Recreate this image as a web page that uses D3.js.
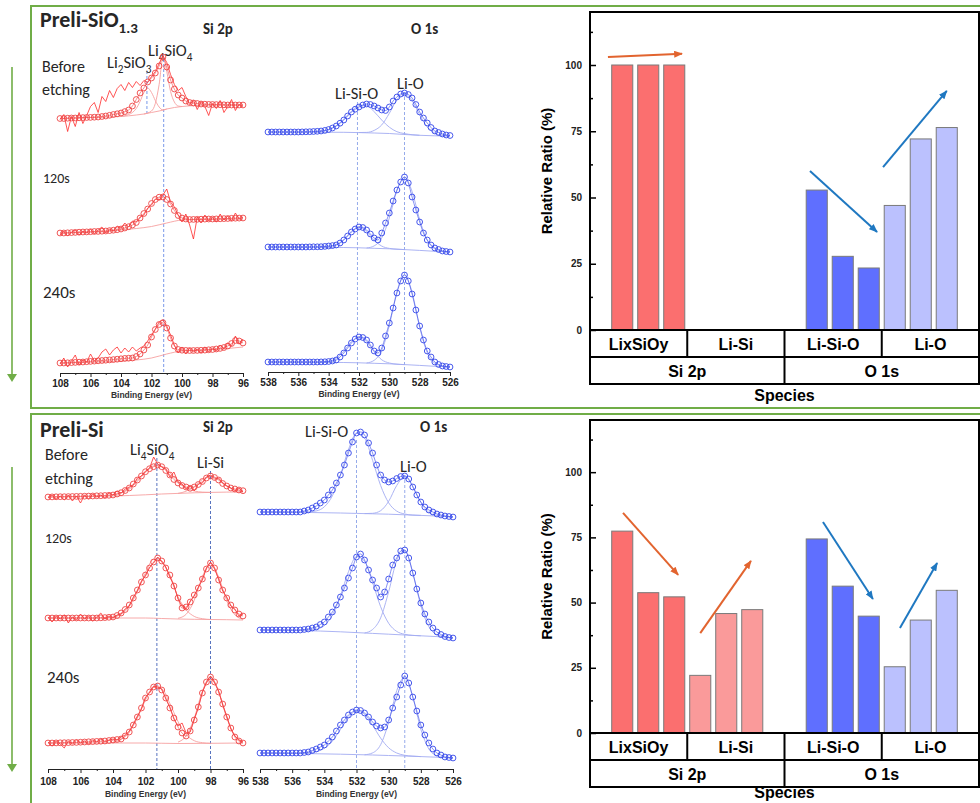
<!DOCTYPE html>
<html>
<head>
<meta charset="utf-8">
<script src="https://cdn.jsdelivr.net/npm/d3@7/dist/d3.min.js"></script>
<style>
  body { margin: 0; background: #fff; }
  svg { display: block; }
  text { font-family: "Liberation Sans", Arial, sans-serif; }
  .cal { font-family: Carlito, Lato, "Open Sans", sans-serif; }
</style>
</head>
<body>
<div id="fig"></div>
<script>
// ---------- spectra: energy grids and tick labels ----------
const siGrid = d3.range(108, 95.9, -0.25);
const oGrid = d3.range(538, 525.9, -0.25);
const siTicks = [108, 106, 104, 102, 100, 98, 96];
const siMinor = [107, 105, 103, 101, 99, 97];
const oTicks = [538, 536, 534, 532, 530, 528, 526];
const oMinor = [537, 535, 533, 531, 529, 527];

// Preli-SiO1.3, Si 2p (a.u., each trace relative to its own baseline)
const siTopOffset = [254.5, 140, 10];
const siTopFit = [
  [0,0,0.3,0.5, 0.5,0.7,0.9,1, 1.1,1.3,1.5,2, 2.5,3.2,4,4.7, 5.5,6.9,8.5,12.5, 19,25.5,30.5,36.5,
   40.5,45.5,52.5,61.5, 51.5,38.5,29.5,23.5, 20.5,17.5,16,15.5, 15,14.5,14.3,14.1, 14,13.9,13.8,13.7, 13.5,13.5,13.5,13.5, 13.5],
  [0,0,0.2,0.4, 0.6,0.8,1,1.1, 1.3,1.5,1.6,1.8, 2,2.4,2.8,3.3, 4,5,6.3,8, 10.5,15,19.5,24,
   29.5,33.5,35.8,36, 33.5,29,22.5,17.5, 15,14,13.5,13.6, 13.7,13.8,13.9,14, 14,14.1,14.2,14.4, 14.5,14.7,14.8,14.9, 15],
  [0,0,0.2,0.4, 0.6,0.8,1,1.3, 1.6,1.9,2.2,2.5, 2.8,3.1,3.4,3.8, 4.2,4.6,4.8,5, 6.5,9,13,18,
   26,33.5,38.5,40.3, 35,25,17,13.5, 12.8,12.6,12.5,12.5, 12.6,12.7,12.9,13.2, 13.5,14,14.6,15.5, 17,19.5,22.5,22, 20]
];
const siTopRaw = [
  [-1,4,-13,2, -8,6,-5,3, 12,16,6,22, 17,28,21,30, 34,28,36,31, 37,33,38,36,
   42,47,55,63, 56,44,34,28, 31,22,14,18, 9,17,12,3, 15,10,18,6, 12,19,8,14, 12],
  [-2,2,-3,1, 3,-2,2,0, 4,-1,3,6, 0,4,2,7, 5,10,6,12, 11,16,18,25,
   28,34,33,38, 44,31,26,18, 11,19,8,-6, 16,10,18,12, 16,11,19,13, 17,12,20,14, 16],
  [-1,5,-4,2, 8,-2,3,1, 9,2,5,11, 14,8,13,16, 10,15,11,16, 12,15,17,22,
   28,34,41,43, 37,28,18,10, 16,9,15,11, 14,10,16,11, 15,12,18,14, 20,17,27,19, 24]
];
const siTopBg = [
  [[108,0],[106,1],[104,2],[103,3.5],[102.5,4.5],[102,6],[101.5,7.5],[101,9.5],[100.5,11],[100,12],[99,13],[98,13.5],[96,13.5]],
  [[108,0],[105,1.5],[104,3],[103,4.5],[102,6.5],[101,10],[100,13],[99,13.5],[96,14]],
  [[108,0],[104,2],[103,3],[102,5],[101,9],[100,12],[98,13.5],[97,14.5],[96,16]]
];
const siTopComps = [
  [
    [[104,2],[103.5,4],[103.25,6],[103,10],[102.75,17],[102.5,26],[102.25,30.5],[102,26],[101.75,18],[101.5,11.5],[101.25,8.5],[101,9.5]],
    [[102.5,4.5],[102,7.5],[101.75,15],[101.5,34],[101.25,61],[101,47],[100.75,27],[100.5,16.5],[100.25,12.5],[100,12]]
  ],
  [], []
];
const siTopPeaks = [102.3, 101.2];
const siTopPeakNames = [["Li", "2", "SiO", "3"], ["Li", "4", "SiO", "4"]];

// Preli-SiO1.3, O 1s
const oTopOffset = [240, 125, 10];
const oTopFit = [
  [0,0,0,0, 0,0,0,0, 0,0.1,0.2,0.3, 0.5,0.7,1,1.6, 2.5,4,6,8.8, 12,16,20,22.8,
   25,27,28,27.5, 26,24,22,21.5, 25,31,35,38, 39,37.5,34,27.5, 20,14,9,4.5, 1,-0.5,-2,-3, -3.5],
  [0,0,0,0, 0,0,0,0, 0,0,0,0.1, 0.2,0.2,0.3,0.6, 1,1.4,2,4, 7,11,15,18,
   20,19.5,17,13, 9,7,14,24, 34,46,57,65, 70,64,50,37, 25,14,7,2, -1,-2.5,-4,-4.5, -5],
  [0,0,0,0, 0,0,0,0, 0,0,0,0, 0,0,0.1,0.2, 0.5,1,2,5, 9,14,19,23,
   25,24.5,22,17, 11,9,14,26, 39,54,69,81, 87,81,68,52, 36,22,11,5, 0,-2.5,-4,-4.5, -5]
];
const oTopBg = [
  [[538,0],[533,-0.3],[532,-0.6],[531,-1],[530,-1.5],[529,-2.5],[528,-3.3],[527,-3.8],[526,-4]],
  [[538,0],[533,-0.5],[532,-0.8],[531,-1.3],[530,-1.8],[529,-2.6],[528,-3.4],[527,-4.3],[526,-5]],
  [[538,0],[533,-0.5],[532,-0.8],[531,-1.3],[530,-1.8],[529,-2.6],[528,-3.4],[527,-4.3],[526,-5]]
];
const oTopComps = [
  [
    [[535,0],[534.5,0.7],[534,2.4],[533.5,6.3],[533,12.9],[532.5,20.8],[532,26.3],[531.5,26.2],[531,20.3],[530.5,11.9],[530,4.8],[529.5,0.3],[529,-1.6],[528.5,-2.7],[528,-3.3]],
    [[532,-0.5],[531.5,-0.4],[531,1.6],[530.5,7.1],[530,18.7],[529.5,32.3],[529,38.4],[528.5,31.5],[528,17.2],[527.5,5.1],[527,-1.1],[526.5,-3.4],[526,-4]]
  ],
  [
    [[534.5,0],[534,0.2],[533.5,2.3],[533,7.4],[532.5,15.7],[532,20],[531.5,15.3],[531,6.9],[530.5,0.9],[530,-1.4],[529.5,-2.2],[529,-2.6]],
    [[531.5,-1],[531,1.1],[530.5,9.1],[530,29],[529.5,56.3],[529,69.9],[528.5,55.5],[528,27.4],[527.5,6.7],[527,-1.9],[526.5,-4.2],[526,-5]]
  ],
  [
    [[534.5,0],[534,0.8],[533.5,3.7],[533,10.8],[532.5,20.5],[532,25],[531.5,20.2],[531,10.2],[530.5,2.2],[530,-1],[529.5,-2.2],[529,-2.6]],
    [[531.5,-1],[531,1.7],[530.5,11.6],[530,36.5],[529.5,70.4],[529,87.4],[528.5,69.6],[528,34.9],[527.5,9.2],[527,-1.3],[526.5,-4.1],[526,-5]]
  ]
];
const oTopPeaks = [532.1, 529.0];
const oTopPeakNames = [["Li-Si-O"], ["Li-O"]];

// Preli-Si, Si 2p
const siBotOffset = [272, 151, 26];
const siBotFit = [
  [0,0.1,0.2,0.3, 0.3,0.4,0.5,0.6, 0.7,0.8,0.9,1, 1.2,1.3,1.5,1.7, 2,3,4.3,6.5, 9,13,17,21,
   25.3,28.3,30.3,32, 30.3,26.5,22,17.5, 14,11.5,10,8.7, 10,12.5,15.5,19, 21,19.5,17,13.5, 11,9,8,7, 6.3],
  [0,0,0,0, 0,0,0,0, 0,0,0,0, 0,0.2,0.4,0.7, 1,2.5,5,8.5, 13,20,28,36,
   43,50,56,60, 57,50,43,32, 20,10,11,16, 23,30,39,49, 55,50,38,28, 20,13,8,4, 2],
  [0,0,0.1,0.2, 0.3,0.4,0.5,0.6, 0.8,1,1.2,1.4, 1.6,1.8,2,2.5, 3,3.5,4,7, 11,18,26,35,
   45,51,56,57, 53,45,35,25, 16,10,7,12, 23,36,50,61, 66,61,51,39, 26,15,6,2, 0]
];
const siBotRaw = [
  [-1,2,-2,1, -3,2,-4,1, -6,2,-2,3, 0,2,-1,4, 2,6,4,8, 10,12,19,21,
   26,29,40,33, 30,28,20,25, 15,13,8,11, 6,13,14,20, 22,18,19,14, 11,9,6,9, 5],
  [1,-4,2,-1, 3,-5,1,-2, 4,-1,2,-3, 1,5,-1,2, 0,3,4,9, 12,21,27,37,
   42,51,55,61, 56,51,41,33, 19,12,9,17, 22,31,38,50, 56,49,39,27, 21,12,9,2, 4],
  [1,-3,2,-1, -5,2,-1,3, 0,2,-1,3, 1,4,1,3, 4,3,6,8, 12,19,27,34,
   46,50,57,56, 54,44,36,24, 17,20,10,11, 24,35,51,60, 67,60,52,38, 27,14,7,3, 1]
];
const siBotBg = [
  [[108,0],[104,1],[103,1.5],[102,2.2],[101,3],[100,3.6],[99,4.2],[98,4.6],[97,4.9],[96,5]],
  [[108,0],[102,0],[101,-0.5],[100,-1],[99,-1.3],[98,-1.5],[97,-1.7],[96,-2]],
  [[108,0],[102,0],[100,-0.5],[98,-0.3],[96,0]]
];
const siBotComps = [
  [
    [[104,2.6],[103.5,4],[103,7.9],[102.5,15.6],[102,24.7],[101.5,31.1],[101,30.7],[100.5,24],[100,15.5],[99.5,9.2],[99,6],[98.5,4.9],[98,4.6]],
    [[100,3.6],[99.5,5.8],[99,10.5],[98.5,17.4],[98,21.1],[97.5,17.8],[97,11.2],[96.5,6.9],[96,5.3]]
  ],
  [
    [[104,0.9],[103.5,3.7],[103,11.5],[102.5,26.3],[102,45.3],[101.5,58.6],[101,57],[100.5,41.2],[100,21.3],[99.5,8.2],[99,1.6],[98.5,-0.7],[98,-1.5]],
    [[100,-0.3],[99.5,3.7],[99,17.7],[98.5,41.3],[98,54.5],[97.5,41.1],[97,17.3],[96.5,3.1],[96,-1.3]]
  ],
  [
    [[104,0.9],[103.5,3.6],[103,10.9],[102.5,25],[102,43],[101.5,55.7],[101,54.2],[100.5,39.5],[100,21.5],[99.5,8.5],[99,2.3],[98.5,0.3],[98,-0.3]],
    [[100,0.9],[99.5,7.2],[99,25],[98.5,51.7],[98,66],[97.5,51.7],[97,25],[96.5,7.5],[96,1.4]]
  ]
];
const siBotPeaks = [101.3, 98.0];
const siBotPeakNames = [["Li", "4", "SiO", "4"], ["Li-Si"]];

// Preli-Si, O 1s
const oBotOffset = [257, 139, 16];
const oBotFit = [
  [0,0,0,0, 0,0,0,0, 0,0,0,1, 2,4,6,9, 12,17,22,29, 37,47,59,70,
   79,80,77,69, 59,47,37,32, 30,31,33.5,35.5, 36,33,25,17, 10,5,2,0, -2,-3,-4,-4.5, -5],
  [0,0,0,0, 0,0,0,0, 0,0,0,0.5, 1,2,3,5.5, 8,13,18,25, 33,42,52,62,
   73,76,70,60, 50,42,33,38, 51,65,72,79, 80,72,57,41, 27,16,8,2, -2,-4.5,-6.5,-7.5, -8],
  [0,0,0,0, 0,0,0,0, 0,0,0,0.5, 1,2.5,4,6, 8,12,16,22, 28,33,38,41,
   43,42.5,40,36, 31,27,25,26, 33,45,56,68, 77,70,56,42, 28,18,10,4, 0,-2,-4,-4.5, -5]
];
const oBotBg = [
  [[538,0],[533,-1],[532,-1.4],[531,-1.8],[530,-2.2],[529,-2.8],[528,-3.4],[527,-4],[526,-5]],
  [[538,0],[533,-1.8],[532,-2.6],[531,-3.4],[530,-4.2],[529,-5],[528,-5.8],[527,-6.6],[526,-8]],
  [[538,0],[533,-1.2],[532,-1.6],[531,-2],[530,-2.5],[529,-3],[528,-3.6],[527,-4.2],[526,-5]]
];
const oBotComps = [
  [
    [[535.5,0],[535,0.2],[534.5,1.1],[534,5.2],[533.5,16.2],[533,37],[532.5,62.4],[532,78.6],[531.5,73.9],[531,51.7],[530.5,26.5],[530,9.2],[529.5,0.9],[529,-2],[528.5,-3.1],[528,-3.4]],
    [[531.5,-1.6],[531,-1.3],[530.5,1.3],[530,10.7],[529.5,26.5],[529,35.2],[528.5,25.9],[528,9.5],[527.5,-0.4],[527,-3.5],[526.5,-4.5],[526,-5]]
  ],
  [
    [[535.5,0],[535,0.2],[534.5,0.9],[534,4.5],[533.5,14.8],[533,34.3],[532.5,58.2],[532,73.4],[531.5,68.8],[531,47.5],[530.5,23.3],[530,6.7],[529.5,-1.4],[529,-4.3],[528.5,-5.4],[528,-5.8]],
    [[531.5,-3],[531,0.5],[530.5,12.1],[530,38.3],[529.5,69.5],[529,79.2],[528.5,57.1],[528,24.4],[527.5,3.3],[527,-4.6],[526.5,-6.7],[526,-8]]
  ],
  [
    [[535.5,0],[535,0.4],[534.5,1.4],[534,4.7],[533.5,11.9],[533,23.4],[532.5,35.6],[532,42.2],[531.5,38.9],[531,27.8],[530.5,14.9],[530,5.2],[529.5,0],[529,-2.3],[528.5,-3.1],[528,-3.6]],
    [[531.5,-1.8],[531,0.1],[530.5,8.3],[530,30.7],[529.5,62.3],[529,76],[528.5,55.8],[528,23.8],[527.5,4],[527,-2.8],[526.5,-4.6],[526,-5]]
  ]
];
const oBotPeaks = [532.0, 529.0];
const oBotPeakNames = [["Li-Si-O"], ["Li-O"]];

// ---------- relative ratio bar charts ----------
const species = ["LixSiOy", "Li-Si", "Li-Si-O", "Li-O"];
const groups = ["Si 2p", "O 1s"];
const ratioTicks = [0, 25, 50, 75, 100];
const ratioMinor = [12.5, 37.5, 62.5, 87.5, 112.5];
// per species: before etching, 120s, 240s
const ratioTop = [[100, 100, 100], [0, 0, 0], [52.8, 27.8, 23.4], [47.0, 72.1, 76.4]];
const ratioBot = [[77.4, 53.8, 52.2], [22.1, 45.8, 47.3], [74.4, 56.3, 44.8], [25.4, 43.3, 54.7]];
// trend arrows: [slot, ratio] within a group
const trendTop = [
  {group: "Si 2p", from: [-0.55, 103], to: [2.3, 104.2], kind: "si"},
  {group: "O 1s", from: [-0.26, 60], to: [2.32, 37], kind: "o"},
  {group: "O 1s", from: [2.55, 61.5], to: [5.0, 90.2], kind: "o"}
];
const trendBot = [
  {group: "Si 2p", from: [0.03, 84.4], to: [2.15, 60.6], kind: "si"},
  {group: "Si 2p", from: [3.0, 38.3], to: [4.95, 66.0], kind: "si"},
  {group: "O 1s", from: [0.24, 80.9], to: [2.16, 51.4], kind: "o"},
  {group: "O 1s", from: [3.2, 40.3], to: [4.63, 65.2], kind: "o"}
];

// ---------- drawing ----------
const speciesColors = ["#fb6f6f", "#fa9a9a", "#5f6fff", "#bbc1fe"];
const arrowColors = {si: "#e2642f", o: "#1f78c1"};
const green = "#70ad47";

const svg = d3.select("#fig").append("svg").attr("width", 980).attr("height", 803);

const defs = svg.append("defs");
Object.entries(arrowColors).forEach(([k, c]) => {
  defs.append("marker").attr("id", "head-" + k)
    .attr("viewBox", "0 0 10 8").attr("refX", 9).attr("refY", 4)
    .attr("markerWidth", 9).attr("markerHeight", 7).attr("markerUnits", "userSpaceOnUse")
    .attr("orient", "auto")
    .append("path").attr("d", "M0,0L10,4L0,8Z").attr("fill", c);
});

// panel frames
svg.append("rect").attr("x", 31).attr("y", 6).attr("width", 960).attr("height", 402)
  .attr("fill", "none").attr("stroke", green).attr("stroke-width", 2);
svg.append("rect").attr("x", 31).attr("y", 414).attr("width", 960).attr("height", 400)
  .attr("fill", "none").attr("stroke", green).attr("stroke-width", 2);

// etching direction arrows
[[67, 382], [467, 772]].forEach(([a, b]) => {
  svg.append("line").attr("x1", 12).attr("x2", 12).attr("y1", a).attr("y2", b - 6)
    .attr("stroke", green).attr("stroke-width", 1.6);
  svg.append("path").attr("d", `M7,${b - 8}L17,${b - 8}L12,${b}Z`).attr("fill", green);
});

function rich(sel, x, y, parts, size, weight, anchor) {
  const t = sel.append("text").attr("class", "cal").attr("x", x).attr("y", y)
    .attr("font-size", size).attr("font-weight", weight || "normal")
    .attr("text-anchor", anchor || "start").attr("fill", "#262626");
  parts.forEach((p, i) => {
    const sub = i % 2 === 1;
    t.append("tspan").text(p)
      .attr("font-size", sub ? size * 0.68 : size)
      .attr("dy", i === 0 ? 0 : (sub ? size * 0.28 : -size * 0.28));
  });
  return t;
}

function drawSpectra(o) {
  const g = svg.append("g");
  const x = d3.scaleLinear().domain(o.domain).range(o.range);
  const y = d3.scaleLinear().domain([0, 360]).range([o.axisY, o.axisY - 360]);

  // peak position guides
  o.peaks.forEach((E, i) => {
    const [lx, ly] = o.labelPos[i];
    const end = o.dashEnd[i] == null ? o.axisY : y(o.offset[0] + o.dashEnd[i]);
    g.append("line").attr("x1", x(E)).attr("x2", x(E)).attr("y1", ly + 3).attr("y2", end)
      .attr("stroke", o.dash).attr("stroke-width", 0.9).attr("stroke-dasharray", "3,2");
    rich(g, lx, ly, o.peakNames[i], 16.5, "normal");
  });

  o.fit.forEach((fit, k) => {
    const off = o.offset[k];
    const smooth = d3.line().x(d => x(d[0])).y(d => y(off + d[1])).curve(d3.curveMonotoneX);
    const straight = d3.line().x(d => x(d[0])).y(d => y(off + d[1]));
    g.append("path").attr("d", smooth(o.bg[k])).attr("fill", "none")
      .attr("stroke", o.compColor).attr("stroke-width", 0.9);
    o.comps[k].forEach(c => {
      g.append("path").attr("d", smooth(c)).attr("fill", "none")
        .attr("stroke", o.compColor).attr("stroke-width", 0.9);
    });
    const pts = o.grid.map((E, i) => [E, fit[i]]);
    if (o.raw) {
      g.append("path").attr("d", straight(o.grid.map((E, i) => [E, o.raw[k][i]])))
        .attr("fill", "none").attr("stroke", o.rawColor).attr("stroke-width", 0.8);
    }
    g.append("path").attr("d", smooth(pts)).attr("fill", "none")
      .attr("stroke", o.dotColor).attr("stroke-width", 0.6);
    g.selectAll(null).data(pts).join("circle")
      .attr("cx", d => x(d[0])).attr("cy", d => y(off + d[1])).attr("r", 2.9)
      .attr("fill", "none").attr("stroke", o.dotColor).attr("stroke-width", 0.9);
  });

  const ax = g.append("g").attr("transform", `translate(0,${o.axisY})`)
    .attr("font-family", "'Liberation Sans', Arial, sans-serif").attr("font-size", 9.5).attr("font-weight", "bold");
  ax.call(d3.axisBottom(x).tickValues(o.ticks).tickSize(4).tickSizeOuter(0).tickPadding(o.pad).tickFormat(d3.format("d")));
  ax.append("g").call(d3.axisBottom(x).tickValues(o.minor).tickSize(2).tickFormat(""))
    .select(".domain").remove();
  ax.selectAll("text").attr("fill", "#222");
  ax.selectAll("line,path").attr("stroke", "#222");
  g.append("text").attr("x", (o.range[0] + o.range[1]) / 2).attr("y", o.axisY + o.titleDy)
    .attr("text-anchor", "middle").attr("font-size", 8.5).attr("font-weight", "bold").attr("fill", "#333")
    .text("Binding Energy (eV)");
}

const siStyle = {compColor: "#f6a0a0", rawColor: "#ff2a2a", dotColor: "#ee4545"};
const oStyle = {compColor: "#a3abf2", dotColor: "#3447ea"};

drawSpectra(Object.assign({
  fit: siTopFit, raw: siTopRaw, bg: siTopBg, comps: siTopComps, offset: siTopOffset,
  peaks: siTopPeaks, peakNames: siTopPeakNames, labelPos: [[107, 68], [148, 56]], dashEnd: [5, null],
  grid: siGrid, domain: [108, 96], range: [60, 243], axisY: 373, ticks: siTicks, minor: siMinor,
  pad: 3, titleDy: 25, dash: "#6a8ce6"
}, siStyle));
drawSpectra(Object.assign({
  fit: oTopFit, bg: oTopBg, comps: oTopComps, offset: oTopOffset,
  peaks: oTopPeaks, peakNames: oTopPeakNames, labelPos: [[335, 99], [397, 89]], dashEnd: [null, null],
  grid: oGrid, domain: [538, 526], range: [268, 450], axisY: 372, ticks: oTicks, minor: oMinor,
  pad: 3, titleDy: 25, dash: "#8aa2e8"
}, oStyle));
drawSpectra(Object.assign({
  fit: siBotFit, raw: siBotRaw, bg: siBotBg, comps: siBotComps, offset: siBotOffset,
  peaks: siBotPeaks, peakNames: siBotPeakNames, labelPos: [[130, 455], [197, 468]], dashEnd: [null, null],
  grid: siGrid, domain: [108, 96], range: [48, 243], axisY: 769, ticks: siTicks, minor: siMinor,
  pad: 5, titleDy: 28, dash: "#4463b8"
}, siStyle));
drawSpectra(Object.assign({
  fit: oBotFit, bg: oBotBg, comps: oBotComps, offset: oBotOffset,
  peaks: oBotPeaks, peakNames: oBotPeakNames, labelPos: [[305, 437], [400, 472]], dashEnd: [null, null],
  grid: oGrid, domain: [538, 526], range: [260, 453], axisY: 769, ticks: oTicks, minor: oMinor,
  pad: 5, titleDy: 28, dash: "#8aa2e8"
}, oStyle));

// panel captions
const caps = svg.append("g");
rich(caps, 40, 27, ["Preli-SiO", "1.3"], 22, "bold");
rich(caps, 203, 34, ["Si 2p"], 15, "bold");
rich(caps, 411, 34, ["O 1s"], 15, "bold");
rich(caps, 42, 72, ["Before"], 16);
rich(caps, 42, 95, ["etching"], 16);
rich(caps, 43, 183, ["120s"], 14);
rich(caps, 43, 298, ["240s"], 17);
rich(caps, 40, 437, ["Preli-Si"], 22, "bold");
rich(caps, 203, 432, ["Si 2p"], 15, "bold");
rich(caps, 420, 432, ["O 1s"], 15, "bold");
rich(caps, 45, 460, ["Before"], 16);
rich(caps, 45, 484, ["etching"], 16);
rich(caps, 45, 543, ["120s"], 14);
rich(caps, 47, 683, ["240s"], 17);

function drawRatios(o) {
  const g = svg.append("g");
  const x0 = d3.scaleBand().domain(groups).range([o.left, o.right]);
  const bw = x0.bandwidth();
  const x1 = d3.scaleBand().domain(d3.range(6)).range([0, bw]).paddingInner(0.19).paddingOuter(0.835);
  const y = d3.scaleLinear().domain([0, 120]).range([o.base, o.top]);
  const slotX = (grp, k) => x0(grp) + x1(0) + x1.bandwidth() / 2 + k * x1.step();

  const bars = [];
  o.values.forEach((vals, s) => vals.forEach((v, t) => bars.push({s, t, v})));
  g.selectAll("rect.bar").data(bars.filter(d => d.v > 0)).join("rect").attr("class", "bar")
    .attr("x", d => x0(groups[Math.floor(d.s / 2)]) + x1((d.s % 2) * 3 + d.t))
    .attr("y", d => y(d.v)).attr("width", x1.bandwidth()).attr("height", d => y(0) - y(d.v))
    .attr("fill", d => speciesColors[d.s]).attr("stroke", "#7a7a7a").attr("stroke-width", 1);

  o.trends.forEach(a => {
    g.append("line")
      .attr("x1", slotX(a.group, a.from[0])).attr("y1", y(a.from[1]))
      .attr("x2", slotX(a.group, a.to[0])).attr("y2", y(a.to[1]))
      .attr("stroke", arrowColors[a.kind]).attr("stroke-width", 2)
      .attr("marker-end", `url(#head-${a.kind})`);
  });

  // y axis (inward ticks)
  const ay = g.append("g").attr("transform", `translate(${o.left},0)`)
    .attr("font-family", "'Liberation Sans', Arial, sans-serif").attr("font-size", 13).attr("font-weight", "bold");
  ay.call(d3.axisLeft(y).tickValues(ratioTicks).tickSize(-6).tickPadding(8));
  ay.append("g").call(d3.axisLeft(y).tickValues(ratioMinor).tickSize(-3).tickFormat(""));
  ay.selectAll(".domain").remove();
  ay.selectAll("line").attr("stroke", "#000").attr("stroke-width", 1.5);
  ay.selectAll("text").attr("fill", "#222");

  // frame and category table
  const row = o.row;
  g.append("rect").attr("x", o.left).attr("y", o.top).attr("width", o.right - o.left)
    .attr("height", o.base + 2 * row - o.top).attr("fill", "none").attr("stroke", "#000").attr("stroke-width", 2);
  [o.base, o.base + row].forEach(yy => g.append("line").attr("x1", o.left).attr("x2", o.right)
    .attr("y1", yy).attr("y2", yy).attr("stroke", "#000").attr("stroke-width", 2));
  groups.forEach((grp, gi) => {
    g.append("line").attr("x1", x0(grp) + bw / 2).attr("x2", x0(grp) + bw / 2)
      .attr("y1", o.base).attr("y2", o.base + row).attr("stroke", "#000").attr("stroke-width", 2);
    if (gi > 0) g.append("line").attr("x1", x0(grp)).attr("x2", x0(grp))
      .attr("y1", o.base).attr("y2", o.base + 2 * row).attr("stroke", "#000").attr("stroke-width", 2);
    g.append("text").attr("x", x0(grp) + bw / 2).attr("y", o.base + row + 20)
      .attr("text-anchor", "middle").attr("font-size", 16).attr("font-weight", "bold").text(grp);
  });
  species.forEach((sp, s) => {
    const grp = groups[Math.floor(s / 2)];
    g.append("text").attr("x", x0(grp) + bw / 4 + (s % 2) * bw / 2).attr("y", o.base + 20)
      .attr("text-anchor", "middle").attr("font-size", 16).attr("font-weight", "bold").text(sp);
  });
  g.append("text").attr("x", (o.left + o.right) / 2).attr("y", o.speciesY)
    .attr("text-anchor", "middle").attr("font-size", 16).attr("font-weight", "bold").text("Species");
  g.append("text").attr("transform", `translate(552,${(o.top + o.base) / 2}) rotate(-90)`)
    .attr("text-anchor", "middle").attr("font-size", 15).attr("font-weight", "bold").text("Relative Ratio (%)");
}

drawRatios({values: ratioTop, trends: trendTop, left: 590, right: 979, top: 12, base: 330, row: 27, speciesY: 401});
drawRatios({values: ratioBot, trends: trendBot, left: 590, right: 979, top: 420, base: 733, row: 27, speciesY: 798});
</script>
</body>
</html>
